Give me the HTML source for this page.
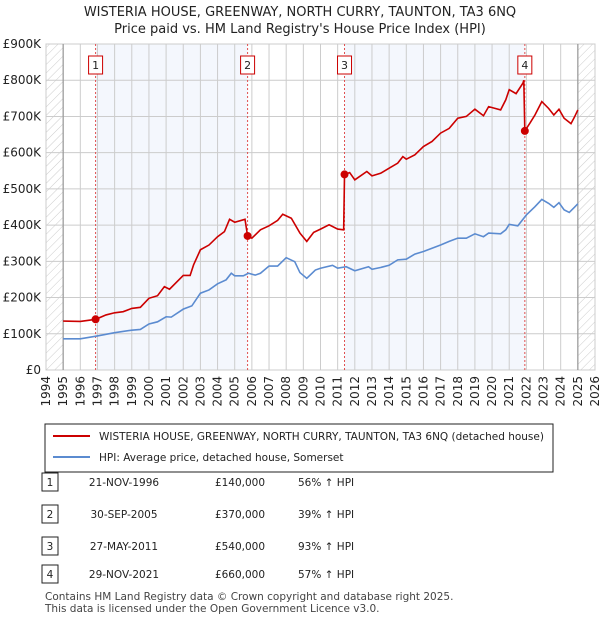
<!DOCTYPE html>
<html><head><meta charset="utf-8"><style>
body{margin:0;background:#fff;font-family:"DejaVu Sans",sans-serif;}
#wrap{position:relative;width:600px;height:620px;overflow:hidden}
</style></head><body>
<div id="wrap">
<svg id="svg" width="600" height="620" xmlns="http://www.w3.org/2000/svg" font-family="DejaVu Sans, sans-serif">
<defs><pattern id="hatch" width="6" height="6" patternUnits="userSpaceOnUse" patternTransform="rotate(45)"><line x1="0" y1="0" x2="0" y2="6" stroke="#ccc" stroke-width="1"/></pattern></defs>
<text x="300" y="16" text-anchor="middle" font-size="13" fill="#222">WISTERIA HOUSE, GREENWAY, NORTH CURRY, TAUNTON, TA3 6NQ</text>
<text x="300" y="33" text-anchor="middle" font-size="13" fill="#222">Price paid vs. HM Land Registry's House Price Index (HPI)</text>
<g id="plot"></g>
<g>
<rect x="45" y="424" width="508" height="48" fill="#fff" stroke="#222" stroke-width="1"/>
<line x1="53" y1="436" x2="90" y2="436" stroke="#cc0000" stroke-width="2"/>
<text x="99" y="440" font-size="10.5" fill="#222">WISTERIA HOUSE, GREENWAY, NORTH CURRY, TAUNTON, TA3 6NQ (detached house)</text>
<line x1="53" y1="457" x2="90" y2="457" stroke="#5b8bd0" stroke-width="2"/>
<text x="99" y="461" font-size="10.5" fill="#222">HPI: Average price, detached house, Somerset</text>
</g>
<g id="table" font-size="10.5" fill="#222"></g>
<text x="45" y="600" font-size="10.5" fill="#444">Contains HM Land Registry data © Crown copyright and database right 2025.</text>
<text x="45" y="612" font-size="10.5" fill="#444">This data is licensed under the Open Government Licence v3.0.</text>
</svg>
</div>
<script>
const hpiYears=[1995,1996,1997,1998,1999,1999.5,2000,2000.5,2001,2001.3,2002,2002.5,2003,2003.5,2004,2004.5,2004.8,2005,2005.5,2005.8,2006.2,2006.5,2007,2007.5,2008,2008.5,2008.8,2009.2,2009.7,2010,2010.7,2011,2011.5,2012,2012.8,2013,2013.5,2014,2014.5,2015,2015.5,2016,2016.5,2017,2017.5,2018,2018.5,2019,2019.5,2019.8,2020.5,2020.8,2021,2021.5,2022,2022.5,2022.9,2023.3,2023.6,2023.9,2024.2,2024.5,2024.8,2025];
const hpiValues=[86,86,94,103,110,112,127,133,147,146,168,177,212,221,238,249,267,260,260,267,262,267,287,287,310,299,269,253,276,281,289,281,285,274,285,278,283,289,304,306,320,327,336,345,355,364,364,376,368,378,376,387,402,398,428,451,471,460,449,462,442,435,449,459];
const priceYears=[1995,1996,1996.9,1997.5,1998,1998.5,1999,1999.5,2000,2000.5,2000.9,2001.2,2002,2002.4,2002.6,2003,2003.5,2004,2004.4,2004.7,2005,2005.6,2005.75,2006,2006.5,2007,2007.5,2007.8,2008.3,2008.8,2009.2,2009.6,2010,2010.5,2011,2011.35,2011.4,2011.7,2012,2012.7,2013,2013.5,2014,2014.5,2014.8,2015,2015.5,2016,2016.5,2017,2017.5,2018,2018.5,2019,2019.5,2019.8,2020.5,2020.8,2021,2021.4,2021.8,2021.85,2021.91,2022.2,2022.5,2022.9,2023.3,2023.6,2023.9,2024.2,2024.6,2024.8,2025];
const priceValues=[135,134,140,152,158,161,170,173,198,205,230,223,261,261,290,332,345,368,382,416,408,416,370,364,387,398,413,430,419,378,355,380,389,401,389,387,540,545,525,548,536,543,557,571,589,582,594,617,631,654,667,695,700,720,702,727,718,746,774,763,792,800,660,681,704,741,722,704,720,695,680,698,718];
const saleLabels=["1","2","3","4"];
const saleYears=[1996.89,2005.75,2011.4,2021.91];
const saleValues=[140,370,540,660];
const saleDates=["21-NOV-1996","30-SEP-2005","27-MAY-2011","29-NOV-2021"];
const salePrices=["£140,000","£370,000","£540,000","£660,000"];
const saleHpi=["56% ↑ HPI","39% ↑ HPI","93% ↑ HPI","57% ↑ HPI"];
const yTicks=[0,100,200,300,400,500,600,700,800,900];
const yTickLabels=["£0","£100K","£200K","£300K","£400K","£500K","£600K","£700K","£800K","£900K"];
const xTicks=[1994,1995,1996,1997,1998,1999,2000,2001,2002,2003,2004,2005,2006,2007,2008,2009,2010,2011,2012,2013,2014,2015,2016,2017,2018,2019,2020,2021,2022,2023,2024,2025,2026];

const L=46,R=595,T=44,B=370;
const x=y=>L+(y-1994)/(2026-1994)*(R-L);
const yS=v=>B-v/900*(B-T);
const NS="http://www.w3.org/2000/svg";
const plot=document.getElementById('plot');
function mk(tag,attrs,parent){const e=document.createElementNS(NS,tag);for(const k in attrs)e.setAttribute(k,attrs[k]);(parent||plot).appendChild(e);return e;}

let bg=mk('rect',{x:L,y:T,width:R-L,height:B-T,fill:'#fff',stroke:'#ccc'});


for(let i=0;i<saleYears.length;i+=2){
  let sh=mk('rect',{x:x(saleYears[i]),y:T,width:x(saleYears[i+1])-x(saleYears[i]),height:B-T,fill:'#f4f7fd'});
  
  
}
let h1=mk('rect',{x:L,y:T,width:x(1995)-L,height:B-T,fill:'url(#hatch)'});


let h2=mk('rect',{x:x(2025),y:T,width:R-x(2025),height:B-T,fill:'url(#hatch)'});


yTicks.forEach((v,i)=>{
  let g=mk('line',{x1:L,x2:R,y1:yS(v),y2:yS(v),stroke:'#ccc'});
  
  
  let t=mk('text',{x:L-5,y:yS(v)+4,'text-anchor':'end','font-size':12,fill:'#222'});
  t.textContent=yTickLabels[i];
  
  
});
xTicks.forEach(yr=>{
  let g=mk('line',{x1:x(yr),x2:x(yr),y1:T,y2:B,stroke:'#ccc'});
  
  
  let t=mk('text',{x:0,y:0,'text-anchor':'end','font-size':12,fill:'#222',transform:`translate(${x(yr)+4},${B+6}) rotate(-90)`});
  t.textContent=yr;
  
  
});
[1995,2025].forEach(yr=>{let l=mk('line',{x1:x(yr),x2:x(yr),y1:T,y2:B,stroke:'#999','stroke-width':1.2});
  
  });
saleYears.forEach((yr,i)=>{
  let l=mk('line',{x1:x(yr),x2:x(yr),y1:T,y2:B,stroke:'#e05050','stroke-dasharray':'2,2','stroke-width':1});
  
  
  let bx=mk('rect',{x:x(yr)-7,y:56,width:14,height:18,fill:'#fff',stroke:'#cc0000'});
  
  
  let t=mk('text',{x:x(yr),y:69,'text-anchor':'middle','font-size':11,fill:'#222'});
  t.textContent=saleLabels[i];
  
  
});
let hp=mk('polyline',{points:hpiYears.map((yr,i)=>x(yr)+','+yS(hpiValues[i])).join(' '),fill:'none',stroke:'#5b8bd0','stroke-width':1.6});


let pp=mk('polyline',{points:priceYears.map((yr,i)=>x(yr)+','+yS(priceValues[i])).join(' '),fill:'none',stroke:'#cc0000','stroke-width':1.6});


saleYears.forEach((yr,i)=>{
  let c=mk('circle',{cx:x(yr),cy:yS(saleValues[i]),r:4,fill:'#cc0000'});
  
  
});
const tb=document.getElementById('table');
const rowY=[483,515,547,575];
saleLabels.forEach((lab,i)=>{
  const yy=rowY[i];
  let bx=mk('rect',{x:42,y:yy-10,width:16,height:18,fill:'#fff',stroke:'#222'},tb);
  
  
  let t0=mk('text',{x:50,y:yy+3,'text-anchor':'middle'},tb);t0.textContent=lab;
  
  
  let t1=mk('text',{x:124,y:yy+3,'text-anchor':'middle'},tb);t1.textContent=saleDates[i];
  
  
  let t2=mk('text',{x:240,y:yy+3,'text-anchor':'middle'},tb);t2.textContent=salePrices[i];
  
  
  let t3=mk('text',{x:298,y:yy+3},tb);t3.textContent=saleHpi[i];
  
  
});
</script>
</body></html>
